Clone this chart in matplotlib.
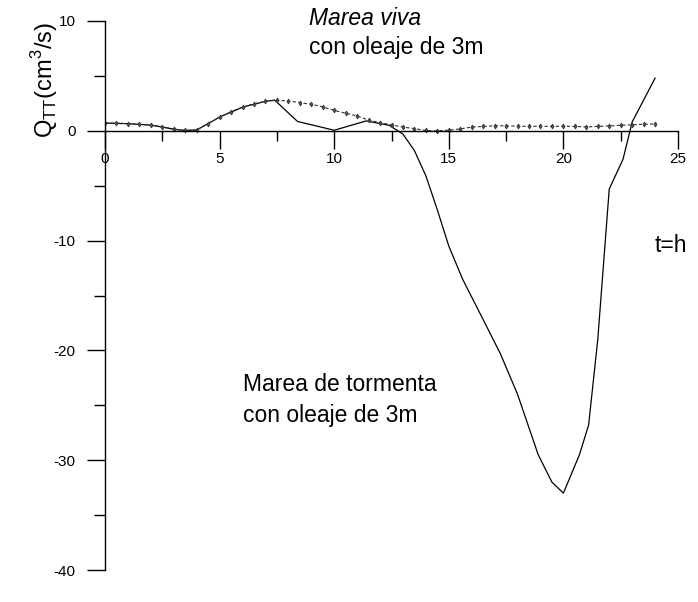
import matplotlib
matplotlib.use("Agg")
import matplotlib.pyplot as plt
from matplotlib.ticker import MultipleLocator

plt.rcParams['font.family'] = ['Liberation Sans', 'DejaVu Sans']

# Spring tide with 3 m waves (sampled every half hour)
t_viva = [0, 0.5, 1, 1.5, 2, 2.5, 3, 3.5, 4, 4.5, 5, 5.5, 6, 6.5, 7, 7.5, 8,
          8.5, 9, 9.5, 10, 10.5, 11, 11.5, 12, 12.5, 13, 13.5, 14, 14.5, 15,
          15.5, 16, 16.5, 17, 17.5, 18, 18.5, 19, 19.5, 20, 20.5, 21, 21.5,
          22, 22.5, 23, 23.5, 24]
q_viva = [0.70, 0.70, 0.65, 0.58, 0.52, 0.38, 0.15, 0.03, 0.08, 0.65, 1.25,
          1.75, 2.15, 2.47, 2.68, 2.78, 2.72, 2.56, 2.42, 2.18, 1.86, 1.60,
          1.35, 0.97, 0.75, 0.54, 0.34, 0.20, 0.03, 0.00, 0.06, 0.17, 0.34,
          0.40, 0.46, 0.46, 0.42, 0.40, 0.42, 0.40, 0.42, 0.40, 0.35, 0.40,
          0.45, 0.50, 0.55, 0.60, 0.62]

# Storm tide with 3 m waves
t_tormenta = [0, 1, 2, 3, 3.5, 4, 4.5, 5, 6, 7, 7.4, 8.4, 10, 11.4, 12.4, 13,
              13.5, 14, 14.5, 15, 15.6, 16.5, 17.25, 18, 18.9, 19.5, 20,
              20.7, 21.1, 21.5, 22, 22.6, 23, 24]
q_tormenta = [0.7, 0.65, 0.52, 0.15, 0.03, 0.08, 0.65, 1.25, 2.15, 2.68, 2.8,
              0.85, 0.05, 0.9, 0.5, -0.3, -1.8, -4.1, -7.2, -10.5, -13.5,
              -17.2, -20.3, -24.0, -29.5, -32.0, -33.0, -29.5, -26.8, -19.0,
              -5.3, -2.6, 0.8, 4.8]

x_ticks = [0, 5, 10, 15, 20, 25]
y_ticks = [10, 0, -10, -20, -30, -40]

W, H = 698, 602
fig = plt.figure(figsize=(W / 100, H / 100), dpi=100)
ax = fig.add_axes([105 / W, 1 - 570 / H, (678 - 105) / W, (570 - 21) / H])

ax.plot(t_tormenta, q_tormenta, color='black', lw=0.9)
ax.plot(t_viva, q_viva, color='#333333', lw=0.8, ls=(0, (3, 2)),
        marker='d', ms=2.5, mfc='#555555', mec='#333333', mew=0.6)

ax.set_xlim(0, 25)
ax.set_ylim(-40, 10)

for side in ('top', 'right'):
    ax.spines[side].set_visible(False)
ax.spines['left'].set_bounds(-40, 10)
ax.spines['bottom'].set_position(('data', 0))
ax.spines['bottom'].set_bounds(0, 25)
ax.spines['left'].set_linewidth(1.0)
ax.spines['bottom'].set_linewidth(1.0)

ax.set_xticks(x_ticks)
ax.set_xticklabels([str(v) for v in x_ticks])
ax.set_yticks(y_ticks)
ax.set_yticklabels([str(v) for v in y_ticks])
ax.xaxis.set_minor_locator(MultipleLocator(2.5))
ax.yaxis.set_minor_locator(MultipleLocator(5))
ax.tick_params(axis='x', which='major', length=13, width=1.0, pad=2, labelsize=11)
ax.tick_params(axis='x', which='minor', length=7, width=1.0)
ax.tick_params(axis='y', which='major', length=13, width=1.0, pad=8, labelsize=11)
ax.tick_params(axis='y', which='minor', length=8, width=1.0)

fig.text(45 / W, 1 - 80 / H, r'Q$_{\mathregular{TT}}$(cm$^{\mathregular{3}}$/s)',
         rotation=90, ha='center', va='center', fontsize=17)

ax.text(8.9, 10.2, 'Marea viva', style='italic', fontsize=16.5, ha='left', va='center')
ax.text(8.9, 7.6, 'con oleaje de 3m', fontsize=16.5, ha='left', va='center')
ax.text(6.0, -23.1, 'Marea de tormenta', fontsize=16.5, ha='left', va='center')
ax.text(6.0, -25.9, 'con oleaje de 3m', fontsize=16.5, ha='left', va='center')
fig.text(655 / W, 1 - 245 / H, 't=h', fontsize=16.5, ha='left', va='center')

fig.savefig('out.png', dpi=100, facecolor='white')
